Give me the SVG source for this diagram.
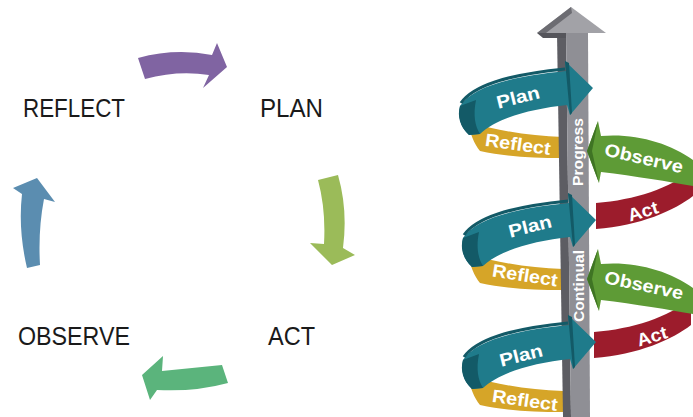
<svg xmlns="http://www.w3.org/2000/svg" xmlns:xlink="http://www.w3.org/1999/xlink" width="693" height="417" viewBox="0 0 693 417">
<style>
.lbl{font-family:"Liberation Sans",Arial,sans-serif;font-size:26px;fill:#1a1a1a}
.band{font-family:"Liberation Sans",Arial,sans-serif;font-weight:bold;font-size:18px;fill:#ffffff;text-anchor:middle}
.vert{font-family:"Liberation Sans",Arial,sans-serif;font-weight:bold;font-size:15.5px;fill:#ffffff;text-anchor:middle}
.teal{fill:#1f7b8b}
.tealD{fill:#135a67}
.gold{fill:#d6a528}
.green{fill:#5e9b36}
.red{fill:#9c1c2c}
</style>
<defs>
<path id="planBand" d="M460,106 C472,88 505,77 566,71 L565,61 L593,88 L570,115 L567,105 C530,109 497,118 480,134 L469,135 C460,127 458,116 460,106 Z"/>
<path id="planTurn" d="M460,106 C457,116 460,127 469,135 L480,134 C475,126 473,115 476,100 Z"/>
<path id="planEdge" d="M461,103 C473,86 505,75 565,69" fill="none" stroke="#135a67" stroke-width="3"/>
<path id="planHead" d="M565,61 L569,63 L572,113 L570,115 Z"/>
<path id="reflBand" d="M468,122 C500,131 530,136 563,137 L563,158 C530,158 503,156 480,151 C474,144 470,133 468,122 Z"/>
<path id="obsBand" d="M598,121 L601,136 C635,133 670,143 693,160 L693,186 C670,182 635,176 601,172 L599,183 L587,151 Z"/>
<path id="obsEdge" d="M598,121 L587,151 L599,183 L592,151 Z"/>
<path id="actBand" d="M693,170 C670,188 635,200 596,203 L596,229 C640,226 675,210 693,196 Z"/>
</defs>

<g id="cycle-connectors">
<path d="M138,58 Q175,48 212,55 L217,43 L227,67 L203,88 L209,75 Q178,70 145,79 Z" fill="#8064a2"/>
<path d="M318,180 L338,175 Q348,210 343,248 L355,255 L332,265 L310,243 L324,244 Q326,210 318,180 Z" fill="#9bbb59"/>
<path d="M222,365 L228,383 Q195,392 157,390 L150,400 L142,375 L163,356 L162,371 Q192,368 222,365 Z" fill="#5bb47c"/>
<path d="M27,268 Q18,230 22,194 L13,188 L37,178 L55,202 L44,199 Q38,230 40,265 Z" fill="#5b8db0"/>
</g>
<g id="node-reflect"><text class="lbl" x="23" y="117" textLength="102" lengthAdjust="spacingAndGlyphs">REFLECT</text></g>
<g id="node-plan"><text class="lbl" x="260" y="117" textLength="63" lengthAdjust="spacingAndGlyphs">PLAN</text></g>
<g id="node-observe"><text class="lbl" x="18" y="345" textLength="112" lengthAdjust="spacingAndGlyphs">OBSERVE</text></g>
<g id="node-act"><text class="lbl" x="268" y="345" textLength="47" lengthAdjust="spacingAndGlyphs">ACT</text></g>

<g id="spiral">
<use xlink:href="#actBand" class="red"/>
<use xlink:href="#actBand" class="red" transform="translate(-2,129)"/>
<use xlink:href="#reflBand" class="gold"/>
<use xlink:href="#reflBand" class="gold" transform="translate(0,132)"/>
<use xlink:href="#reflBand" class="gold" transform="translate(0,254)"/>
<polygon points="557,33 566,33 571,417 563,417" fill="#5d5d63"/>
<polygon points="566,33 588,33 590,417 571,417" fill="#8f8f95"/>
<polygon points="537,33 571,7 606,33" fill="#a2a2a7"/>
<polygon points="537,33 571,7 572,13 546,33" fill="#6c6c72"/>
<polygon points="537,33 566,33 566,38 543,38" fill="#55555b"/>
<use xlink:href="#obsBand" class="green"/>
<use xlink:href="#obsEdge" fill="#3f7424"/>
<use xlink:href="#obsBand" class="green" transform="translate(0,128)"/>
<use xlink:href="#obsEdge" fill="#3f7424" transform="translate(0,128)"/>
<use xlink:href="#planBand" class="teal"/>
<use xlink:href="#planTurn" class="tealD"/>
<use xlink:href="#planEdge"/>
<use xlink:href="#planHead" class="tealD"/>
<g transform="translate(3,132)">
<use xlink:href="#planBand" class="teal"/>
<use xlink:href="#planTurn" class="tealD"/>
<use xlink:href="#planEdge"/>
<use xlink:href="#planHead" class="tealD"/>
</g>
<g transform="translate(3,254)">
<use xlink:href="#planBand" class="teal"/>
<use xlink:href="#planTurn" class="tealD"/>
<use xlink:href="#planEdge"/>
<use xlink:href="#planHead" class="tealD"/>
</g>
<text class="band" transform="translate(518,97) rotate(-14)" y="6.5" textLength="44" lengthAdjust="spacingAndGlyphs">Plan</text>
<text class="band" transform="translate(518,144) rotate(8)" y="6.5" textLength="66" lengthAdjust="spacingAndGlyphs">Reflect</text>
<text class="band" transform="translate(644,158) rotate(13)" y="6.5" textLength="80" lengthAdjust="spacingAndGlyphs">Observe</text>
<text class="band" transform="translate(643,211) rotate(-17)" y="6.5" textLength="31" lengthAdjust="spacingAndGlyphs">Act</text>
<text class="band" transform="translate(530,226) rotate(-14)" y="6.5" textLength="44" lengthAdjust="spacingAndGlyphs">Plan</text>
<text class="band" transform="translate(525,275) rotate(9)" y="6.5" textLength="66" lengthAdjust="spacingAndGlyphs">Reflect</text>
<text class="band" transform="translate(644,285) rotate(12)" y="6.5" textLength="80" lengthAdjust="spacingAndGlyphs">Observe</text>
<text class="band" transform="translate(652,336) rotate(-17)" y="6.5" textLength="31" lengthAdjust="spacingAndGlyphs">Act</text>
<text class="band" transform="translate(521,355) rotate(-14)" y="6.5" textLength="44" lengthAdjust="spacingAndGlyphs">Plan</text>
<text class="band" transform="translate(525,400) rotate(8)" y="6.5" textLength="66" lengthAdjust="spacingAndGlyphs">Reflect</text>
<text class="vert" transform="translate(577,152) rotate(-90)" y="5.5" textLength="68" lengthAdjust="spacingAndGlyphs">Progress</text>
<text class="vert" transform="translate(578,286) rotate(-90)" y="5.5" textLength="72" lengthAdjust="spacingAndGlyphs">Continual</text>
</g>
</svg>
